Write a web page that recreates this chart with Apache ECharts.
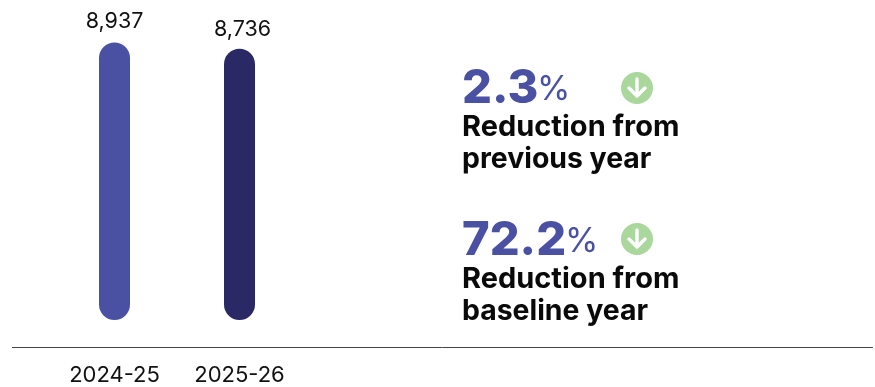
<!DOCTYPE html>
<html><head><meta charset="utf-8">
<style>html,body{margin:0;padding:0;background:#fff}#c{width:875px;height:387px}</style>
<script src="https://cdn.jsdelivr.net/npm/echarts@6/dist/echarts.min.js"></script>
</head><body><div id="c"></div>
<script>
const categories = ['2024-25', '2025-26'];
const values = [8937, 8736];
const barColors = ['#4a51a3', '#2b2866'];
const valueAxisMax = 9660;
const stats = [
  {value: '2.3', line1: 'Reduction from', line2: 'previous year'},
  {value: '72.2', line1: 'Reduction from', line2: 'baseline year'}
];
const font = 'Inter';
const blue = '#4a51a3', green = '#a9d79c';

function statGraphics(s, y, iconY, pctX, iconX) {
  return [
    {type:'text', left:462, top:y-17, style:{text:s.value, font:'800 47px '+font, fill:blue}},
    {type:'text', left:pctX, top:y-9, style:{text:'%', font:'400 34px '+font, fill:blue}},
    {type:'circle', shape:{cx:iconX, cy:iconY+6, r:16}, style:{fill:green}},
    {type:'polyline', shape:{points:[[iconX,iconY-3],[iconX,iconY+13]]}, style:{stroke:'#fff', lineWidth:3.4, fill:null, lineCap:'round'}},
    {type:'polyline', shape:{points:[[iconX-8,iconY+6],[iconX,iconY+14],[iconX+8,iconY+6]]}, style:{stroke:'#fff', lineWidth:3.4, fill:null, lineCap:'round', lineJoin:'round'}},
    {type:'text', left:462, top:y+31, style:{text:s.line1, font:'700 29px '+font, fill:'#0a0a0a'}},
    {type:'text', left:462, top:y+63, style:{text:s.line2, font:'700 28.4px '+font, fill:'#0a0a0a'}}
  ];
}

const chart = echarts.init(document.getElementById('c'), null, {renderer:'canvas'});
chart.setOption({
  animation:false,
  backgroundColor:'#fff',
  grid:{left:52, top:20, width:250, height:300},
  xAxis:{type:'category', data:categories, axisLine:{show:false}, axisTick:{show:false},
    axisLabel:{margin:44, fontFamily:font, fontSize:22, color:'#111', fontWeight:400}},
  yAxis:{type:'value', min:0, max:valueAxisMax, show:false},
  series:[{type:'bar', barWidth:31,
    data:values.map((v,i)=>({value:v, itemStyle:{color:barColors[i]},
      label:{offset:i===1?[3,2]:[0,0]}})),
    itemStyle:{borderRadius:15.5},
    label:{show:true, position:'top', distance:10, fontFamily:font, fontSize:21.5, color:'#111',
      formatter:p=>p.value.toLocaleString('en-US')}}],
  graphic:[
    {type:'line', shape:{x1:12,y1:347.5,x2:873,y2:347.5}, style:{stroke:'#444', lineWidth:1}},
    ...statGraphics(stats[0], 82, 82, 537, 637),
    ...statGraphics(stats[1], 234, 233, 565, 637)
  ]
});
</script></body></html>
